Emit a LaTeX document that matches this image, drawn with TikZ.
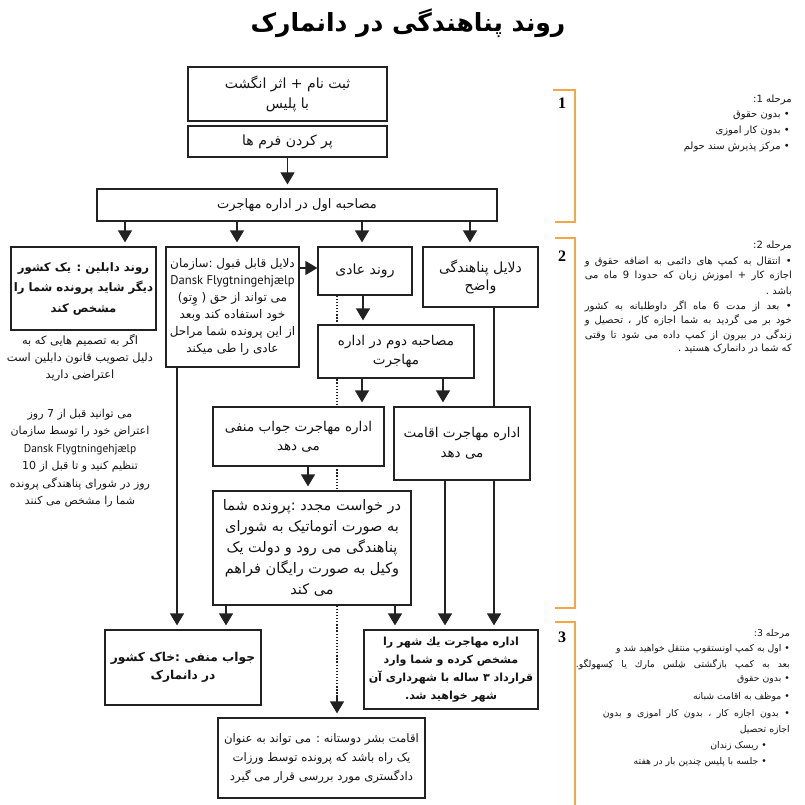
\documentclass[tikz,border=0pt]{standalone}
\usepackage{fontspec}
\setmainfont{DejaVu Sans}
\newfontfamily\fa[Script=Arabic]{DejaVu Sans}
\newfontfamily\lat{PT Sans}
\newfontfamily\numf{Liberation Serif}
\TeXXeTstate=1
\usetikzlibrary{arrows.meta}
\pgfdeclarelayer{bg}
\pgfsetlayers{bg,main}
\definecolor{edgec}{HTML}{222222}
\definecolor{orng}{HTML}{F6A645}
\newcommand\rl[1]{\beginR #1\endR}
\newcommand\fs[2]{\fontsize{#1}{#2}\selectfont}
\begin{document}
\begin{tikzpicture}[x=1pt,y=-1pt,
  box/.style={draw=edgec, line width=1.2pt, fill=white, align=center, inner sep=1pt, text=black!92},
  arr/.style={draw=edgec, line width=1.2pt, -{Triangle[width=14pt,length=12pt]}, shorten >=4pt},
  dotl/.style={draw=edgec, line width=1.4pt, dash pattern=on 1.3pt off 1.8pt},
  note/.style={align=center, inner sep=0pt, text=black!92},
  side/.style={anchor=east, inner sep=0pt, text=black!92, font={\fa\fs{10}{12}}},
  side3/.style={side, font={\fa\fs{9.3}{12}}},
  stage/.style={draw=orng, line width=1.4pt},
  num/.style={font={\numf\bfseries\fs{16}{16}}, inner sep=0pt}
]
\useasboundingbox (0,0) rectangle (804,805);

\node[font={\fa\bfseries\fs{25}{30}}] (title) at (408,23) {\rl{روند پناهندگی در دانمارک}};

% stage brackets
\draw[stage] (553,90) -- (575,90) -- (575,222) -- (555,222);
\draw[stage] (555,238) -- (575,238) -- (575,608) -- (555,608);
\draw[stage] (555,622) -- (575,622) -- (575,805);
\node[num] (n1) at (562,103) {1};
\node[num] (n2) at (562,256) {2};
\node[num] (n3) at (562,637) {3};

% boxes
\node[box, minimum width=199pt, minimum height=54pt, font={\fa\fs{14}{20}}] (A) at (287.5,94) {\rl{ثبت نام + اثر انگشت}\\\rl{با پلیس}};
\node[box, minimum width=199pt, minimum height=31pt, font={\fa\fs{14}{20}}] (B) at (287.5,141.5) {\rl{پر کردن فرم ها}};
\node[box, minimum width=400pt, minimum height=32pt, font={\fa\fs{13}{20}}] (C) at (297,205) {\rl{مصاحبه اول در اداره مهاجرت}};
\node[box, minimum width=145pt, minimum height=83pt, font={\fa\bfseries\fs{11.7}{20.5}}] (D) at (83.5,288.5) {\rl{روند دابلین : یک کشور}\\\rl{دیگر شاید پرونده شما را}\\\rl{مشخص کند}};
\node[box, minimum width=133pt, minimum height=120pt, font={\fa\fs{12}{17}}] (E) at (232.5,307) {\rl{دلایل قابل قبول :سازمان}\\{\lat\fs{12.6}{17}Dansk Flygtningehjælp}\\\rl{می تواند از حق ( وِتو)}\\\rl{خود استفاده کند وبعد}\\\rl{از این پرونده شما مراحل}\\\rl{عادی را طی میکند}};
\node[box, minimum width=94pt, minimum height=48pt, font={\fa\fs{14}{18}}] (F) at (365,271) {\rl{روند عادی}};
\node[box, minimum width=115pt, minimum height=60pt, font={\fa\fs{14}{18.5}}] (G) at (480.5,277) {\rl{دلایل پناهندگی}\\\rl{واضح}};
\node[box, minimum width=156pt, minimum height=53pt, font={\fa\fs{13.5}{18.5}}] (H) at (396,351.5) {\rl{مصاحبه دوم در اداره}\\\rl{مهاجرت}};
\node[box, minimum width=171pt, minimum height=59pt, font={\fa\fs{13.5}{19}}] (I) at (298.5,436.5) {\rl{اداره مهاجرت جواب منفی}\\\rl{می دهد}};
\node[box, minimum width=136pt, minimum height=73pt, font={\fa\fs{13.5}{20}}] (J) at (462,443.5) {\rl{اداره مهاجرت اقامت}\\\rl{می دهد}};
\node[box, minimum width=198pt, minimum height=114pt, font={\fa\fs{14.5}{21}}] (L) at (312,548) {\rl{در خواست مجدد :پرونده شما}\\\rl{به صورت اتوماتیک به شورای}\\\rl{پناهندگی می رود و دولت یک}\\\rl{وکیل به صورت رایگان فراهم}\\\rl{می کند}};
\node[box, minimum width=156pt, minimum height=75pt, font={\fa\bfseries\fs{12.2}{18}}] (M) at (183,667.5) {\rl{جواب منفی :خاک کشور}\\\rl{در دانمارک}};
\node[box, minimum width=174pt, minimum height=79pt, font={\fa\bfseries\fs{11.1}{18}}] (K) at (451,669.5) {\rl{اداره مهاجرت یك شهر را}\\\rl{مشخص کرده و شما وارد}\\\rl{قرارداد ۳ ساله با شهرداری آن}\\\rl{شهر خواهید شد.}};
\node[box, minimum width=207pt, minimum height=80pt, font={\fa\fs{11.7}{19}}] (N) at (321.5,758) {\rl{اقامت بشر دوستانه : می تواند به عنوان}\\\rl{یک راه باشد که پرونده توسط ورزات}\\\rl{دادگستری مورد بررسی قرار می گیرد}};

% notes under Dublin box
\node[note, font={\fa\fs{11.4}{17}}] (d1) at (80,358) {\rl{اگر  به تصمیم هایی که به}\\\rl{دلیل تصویب قانون دابلین است}\\\rl{اعتراضی دارید}};
\node[note, font={\fa\fs{11}{17.5}}] (d2) at (80,458) {\rl{می توانید قبل از 7 روز}\\\rl{اعتراض خود را توسط سازمان}\\{\lat\fs{11.4}{17.5}Dansk Flygtningehjælp}\\\rl{تنظیم کنید و تا  قبل از 10}\\\rl{روز در شورای پناهندگی پرونده}\\\rl{شما را مشخص می کنند}};

% stage 1 text
\node[side] (s1h) at (792,100) {\rl{مرحله 1:}};
\node[side] (s1a) at (790,116) {\rl{• بدون حقوق}};
\node[side] (s1b) at (790,131) {\rl{• بدون کار اموزی}};
\node[side] (s1c) at (790,147) {\rl{• مرکز پذیرش سند حولم}};

% stage 2 text
\node[side] (s2h) at (792,246) {\rl{مرحله 2:}};
\node[side] (s2a) at (792,262) {\hbox to 207pt{\beginR • انتقال به کمپ های دائمی به اضافه حقوق و\endR}};
\node[side] (s2b) at (792,276) {\hbox to 207pt{\beginR اجازه کار + اموزش زبان که حدودا 9 ماه می\endR}};
\node[side] (s2c) at (792,291) {\rl{باشد .}};
\node[side] (s2d) at (792,306) {\hbox to 207pt{\beginR • بعد از مدت 6 ماه اگر داوطلبانه به کشور\endR}};
\node[side] (s2e) at (792,320) {\hbox to 207pt{\beginR خود بر می گردید به شما اجازه کار ، تحصیل و\endR}};
\node[side] (s2f) at (792,335) {\hbox to 207pt{\beginR زندگی در بیرون از کمپ داده می شود تا وقتی\endR}};
\node[side] (s2g) at (792,349) {\rl{که شما در دانمارک هستید .}};

% stage 3 text
\node[side3] (s3h) at (790,634) {\rl{مرحله 3:}};
\node[side3] (s3a) at (790,649) {\rl{• اول به کمپ اونستقوپ منتقل خواهید شد و}};
\node[side3] (s3b) at (790,664) {\hbox to 214pt{\beginR بعد به کمپ بازگشتی شِلس مارك یا کِسهولگو.\endR}};
\node[side3] (s3c) at (790,680) {\rl{• بدون حقوق}};
\node[side3] (s3d) at (790,697) {\rl{• موظف به اقامت شبانه}};
\node[side3] (s3e) at (790,714) {\hbox to 187pt{\beginR • بدون اجازه کار ، بدون کار اموزی و بدون\endR}};
\node[side3] (s3f) at (790,730) {\rl{اجازه تحصیل}};
\node[side3] (s3g) at (767,746) {\rl{• ریسک زندان}};
\node[side3] (s3h2) at (767,762) {\rl{• جلسه با پلیس چندین بار در هفته}};

\coordinate (dn) at (337,695);

\begin{pgfonlayer}{bg}
\draw[arr] (B.south) -- (C.north -| B.south);
\draw[arr] (C.south -| 125,0) -- (D.north -| 125,0);
\draw[arr] (C.south -| 237,0) -- (E.north -| 237,0);
\draw[arr] (C.south -| 362,0) -- (F.north -| 362,0);
\draw[arr] (C.south -| 470,0) -- (G.north -| 470,0);
\draw[arr, shorten >=0pt] (E.east |- 0,268) -- (F.west |- 0,268);
\draw[arr] (F.south -| 363,0) -- (H.north -| 363,0);
\draw[dotl] (F.south -| dn) -- (dn);
\draw[arr] (dn) -- (N.north -| dn);
\draw[arr] (H.south -| 362,0) -- (I.north -| 362,0);
\draw[arr] (H.south -| 443,0) -- (J.north -| 443,0);
\draw[arr] (G.south -| 494,0) -- (K.north -| 494,0);
\draw[arr] (J.south -| 445,0) -- (K.north -| 445,0);
\draw[arr] (I.south -| 308,0) -- (L.north -| 308,0);
\draw[arr] (L.south -| 226,0) -- (M.north -| 226,0);
\draw[arr] (L.south -| 395,0) -- (K.north -| 395,0);
\draw[arr] (E.south -| 177,0) -- (M.north -| 177,0);
\end{pgfonlayer}
\end{tikzpicture}
\end{document}
